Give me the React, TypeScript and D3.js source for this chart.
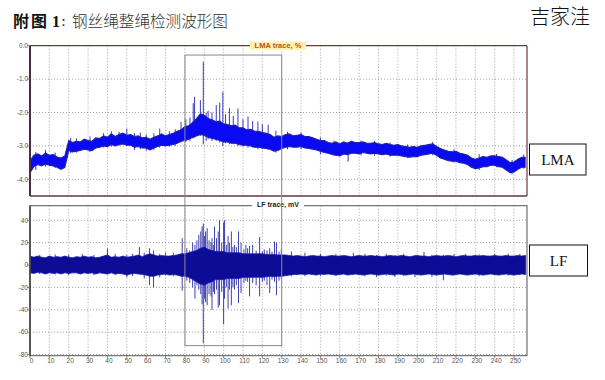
import React from "react";
import * as d3 from "d3";

// ---------- data ----------
const xTicks = [0, 10, 20, 30, 40, 50, 60, 70, 80, 90, 100, 110, 120, 130, 140, 150, 160, 170, 180, 190, 200, 210, 220, 230, 240, 250];
const lmaTicks = [0, -1, -2, -3, -4];
const lmaTickLabels = ["0.0", "-1.0", "-2.0", "-3.0", "-4.0"];
const lfTicks = [40, 20, 0, -20, -40, -60, -80];

// sample positions (every 2 units along the rope)
const samplePos = d3.range(0, 257, 2);

// LMA trace envelope (%), upper and lower edge of the dense band
const lmaHi = [
  -3.45, -3.28, -3.24, -3.30, -3.22, -3.28, -3.26, -3.33, -3.36, -3.30,
  -2.84, -2.90, -2.86, -2.88, -2.80, -2.84, -2.86, -2.76, -2.78, -2.70,
  -2.74, -2.64, -2.72, -2.66, -2.62, -2.68, -2.66, -2.72, -2.70, -2.76,
  -2.74, -2.80, -2.74, -2.70, -2.64, -2.70, -2.66, -2.62, -2.56, -2.52,
  -2.42, -2.40, -2.30, -2.18, -2.04, -2.08, -2.18, -2.22, -2.28, -2.26,
  -2.34, -2.36, -2.40, -2.38, -2.46, -2.46, -2.52, -2.50, -2.56, -2.56,
  -2.60, -2.62, -2.66, -2.74, -2.70, -2.72, -2.66, -2.64, -2.70, -2.68,
  -2.66, -2.72, -2.72, -2.76, -2.80, -2.84, -2.84, -2.90, -2.92, -2.88,
  -2.94, -2.88, -2.92, -2.86, -2.90, -2.90, -2.88, -2.92, -2.92, -2.90,
  -2.94, -2.96, -2.92, -2.96, -2.98, -2.96, -3.00, -3.02, -3.04, -3.02,
  -3.04, -3.00, -2.98, -2.96, -2.94, -3.02, -3.08, -3.12, -3.16, -3.18,
  -3.16, -3.22, -3.24, -3.28, -3.36, -3.40, -3.36, -3.32, -3.34, -3.30,
  -3.30, -3.32, -3.34, -3.42, -3.50, -3.48, -3.40, -3.34, -3.34,
];
const lmaLo = [
  -3.80, -3.62, -3.56, -3.60, -3.54, -3.58, -3.60, -3.64, -3.70, -3.64,
  -3.14, -3.18, -3.16, -3.14, -3.10, -3.12, -3.14, -3.06, -3.04, -3.00,
  -3.02, -2.96, -3.00, -2.96, -2.94, -2.98, -2.98, -3.04, -3.02, -3.06,
  -3.06, -3.12, -3.06, -3.02, -2.98, -3.00, -2.98, -2.96, -2.92, -2.86,
  -2.84, -2.80, -2.74, -2.70, -2.66, -2.68, -2.74, -2.78, -2.80, -2.84,
  -2.88, -2.88, -2.92, -2.92, -2.96, -2.98, -2.98, -3.00, -3.04, -3.04,
  -3.06, -3.08, -3.10, -3.16, -3.14, -3.08, -3.04, -3.02, -3.04, -3.04,
  -3.02, -3.06, -3.08, -3.10, -3.12, -3.16, -3.20, -3.22, -3.26, -3.28,
  -3.30, -3.24, -3.26, -3.22, -3.22, -3.24, -3.20, -3.22, -3.24, -3.22,
  -3.24, -3.26, -3.24, -3.28, -3.28, -3.28, -3.30, -3.32, -3.34, -3.32,
  -3.32, -3.28, -3.26, -3.24, -3.22, -3.28, -3.36, -3.40, -3.44, -3.46,
  -3.46, -3.50, -3.52, -3.56, -3.64, -3.68, -3.66, -3.62, -3.62, -3.58,
  -3.58, -3.62, -3.64, -3.72, -3.80, -3.78, -3.70, -3.64, -3.64,
];
// LMA spikes: [position, top, bottom]
const lmaSpikes: [number, number, number][] = [
  [3, -3.18, -3.72], [8, -3.12, -3.62], [13, -3.2, -3.66], [21, -2.76, -3.22], [24, -2.78, -3.2],
  [31, -2.72, -3.18], [38, -2.62, -3.05], [42, -2.56, -3.02], [46, -2.58, -3.0],
  [50, -2.48, -3.0], [54, -2.62, -3.12], [57, -2.6, -3.1], [60, -2.66, -3.14], [64, -2.62, -3.12],
  [67, -2.48, -3.05], [72, -2.56, -3.02], [75, -2.5, -3.0], [78, -2.28, -2.9], [80.5, -2.2, -2.88],
  [82.6, -2.15, -2.85], [84.3, -1.72, -2.78],
  [85, -1.53, -2.75], [88, -1.63, -2.7], [89.5, -0.48, -2.95], [91, -2.0, -2.85], [92, -1.95, -2.8],
  [94, -2.0, -2.85], [96.2, -1.78, -2.85], [98, -1.7, -2.9], [99.6, -1.38, -3.0],
  [101, -2.05, -2.92], [103, -1.87, -2.95], [105, -2.1, -2.95], [107.4, -1.88, -3.0],
  [110, -2.2, -3.02], [112.6, -2.12, -3.05], [115, -2.25, -3.05], [117.7, -2.27, -3.1],
  [120, -2.35, -3.1], [123, -2.37, -3.12], [127, -2.55, -3.2], [133, -2.58, -3.1], [140, -2.6, -3.1],
  [150, -2.75, -3.25], [157, -2.84, -3.3], [164.3, -2.88, -3.47], [171, -2.84, -3.28], [178, -2.85, -3.3],
  [186, -2.9, -3.32], [195, -2.96, -3.36], [208, -2.88, -3.28], [219, -3.1, -3.5],
  [232, -3.25, -3.72], [241, -3.24, -3.64], [249, -3.42, -3.85], [255, -3.26, -3.68],
];

// LF trace envelope (mV)
const lfHi = [
  8, 7, 8, 7, 6.5, 8, 7, 7.5, 7, 8,
  7, 6.5, 7.5, 7, 8, 7, 7.5, 6.5, 7, 8,
  9, 7, 7.5, 7, 8, 7, 7.5, 8, 9, 7.5,
  9, 10, 9, 8, 8.5, 8, 8, 8.5, 9, 10,
  10, 11, 12, 13, 15, 16, 14, 13, 12, 12,
  12, 11, 11, 11, 11, 10, 10, 10, 10, 10,
  10, 9.5, 9.5, 9.5, 9, 9, 9, 8.5, 8, 8.5,
  8, 7.5, 8, 8.5, 8, 8, 7.5, 8, 8.5, 8,
  8, 8.5, 8, 7.5, 8, 8.5, 8, 8, 8.5, 8,
  8, 7.5, 8, 8.5, 8, 8, 8.5, 8, 7.5, 8,
  8.5, 8, 8, 7.5, 8, 8.5, 8, 8, 8.5, 8,
  7.5, 8, 8.5, 8, 8, 8.5, 8, 8.5, 8, 8,
  8.5, 8, 8, 8.5, 8, 8, 8.5, 8, 8.5,
];
const lfLo = [
  -7, -7.5, -6.5, -7, -8, -7, -7.5, -7, -8, -7,
  -7.5, -7, -7, -8, -7, -7.5, -7, -8, -7, -7.5,
  -8, -7, -8, -7.5, -8, -9, -8, -7.5, -8, -8.5,
  -9, -10, -10, -9, -8.5, -8, -9, -8.5, -9, -10,
  -10, -11, -13, -15, -17, -18, -16, -15, -13, -13,
  -13, -12, -12, -12, -12, -11, -11, -11, -11, -11,
  -11, -10.5, -10, -10.5, -10, -10, -9.5, -9, -8.5, -8.5,
  -8, -8.5, -8, -8.5, -9, -8, -8.5, -8, -8.5, -9,
  -8.5, -8, -9, -8.5, -8, -8.5, -9, -8.5, -8, -8.5,
  -9, -8.5, -8, -8.5, -9, -8, -8.5, -9, -8.5, -8,
  -8.5, -9, -8.5, -8, -8.5, -9, -8.5, -8, -8.5, -9,
  -8.5, -8, -8.5, -9, -8.5, -8, -8.5, -9, -8.5, -8,
  -8.5, -9, -8.5, -8, -8.5, -9, -8.5, -8, -8.5,
];
// LF spikes: [position, top, bottom]
const lfSpikes: [number, number, number][] = [
  [5, 9, -8], [13, 9.5, -8.5], [20, 9, -9], [27, 10, -7], [33, 9, -9], [40, 14.7, -8], [44, 10, -9],
  [50, 9, -11], [53, 10, -10], [56.5, 16, -8], [59, 11, -12],
  [61.7, 15, -18], [63.8, 13, -20], [67, 10, -11], [70, 11, -9], [74, 11, -10], [78.6, 24, -23], [81, 15, -14],
  [82.5, 13, -16], [84, 20, -20], [85.2, 18, -30], [86.2, 22, -18], [87.2, 27, -22],
  [88.2, 30, -26], [88.9, 34.5, -35], [89.5, 37, -70], [90.2, 26, -30], [90.7, 30, -33], [91.5, 33, -36],
  [92.5, 22, -26], [93.5, 20, -28], [94, 24, -40], [94.7, 18, -24], [95.3, 34.5, -26], [96.3, 24, -22],
  [97.2, 30, -38], [97.9, 40, -36], [99, 20, -24], [100, 38, -53], [100.5, 40, -30],
  [101.4, 18, -20], [102.3, 26, -39], [103, 20, -22], [104, 30, -36], [104.8, 16, -20], [105.6, 18, -22],
  [106.6, 16, -18], [107.7, 30, -34], [109, 20, -25], [110.5, 14, -16], [111.5, 18, -14], [112.4, 15, -15],
  [113.4, 17, -28], [115, 18, -16], [116.8, 13, -18], [118.6, 25, -28], [120, 12, -15], [121, 14, -14],
  [122.4, 13, -18], [123.8, 15, -25], [125, 12, -13], [126.3, 21, -15], [127.3, 20, -27],
  [128.6, 12, -14], [129.8, 14, -12], [135, 12, -10], [142, 11, -10], [150, 10, -10], [158, 10, -9.5],
  [167, 11, -9], [173, 10, -10], [179, 9, -10.7], [184, 10, -9.5],
  [188.5, 9, -10.7], [193, 10, -9.5], [198.8, 9, -10.7], [203.5, 11.7, -9], [207.6, 9, -10.7],
  [213.5, 9, -13.7], [219, 10, -9.5], [225, 10, -9], [232, 9.5, -10], [240, 10, -9], [247, 10, -9.5], [253, 10, -9],
];

// inspected section marker (rope position range, and value limits in each panel)
const boxRange = [80, 130];
const boxTopLma = -0.28;
const boxBottomLf = -72;

// ---------- layout ----------
const W = 605;
const H = 380;
const left = 30;
const right = 527;
const topPanel = { top: 45.7, bottom: 196 };
const botPanel = { top: 205.7, bottom: 355.7 };

const x = d3.scaleLinear().domain([0, 256.7]).range([left, right]);
const yTop = d3.scaleLinear().domain([-4.5, 0]).range([topPanel.bottom, topPanel.top]);
const yBot = d3.scaleLinear().domain([-81, 53]).range([botPanel.bottom, botPanel.top]);

const lmaArea = d3
  .area<number>()
  .x((_, i) => x(samplePos[i]))
  .y0((_, i) => yTop(lmaLo[i]))
  .y1((_, i) => yTop(lmaHi[i]));
const lmaHiLine = d3.line<number>().x((_, i) => x(samplePos[i])).y((_, i) => yTop(lmaHi[i]));
const lmaLoLine = d3.line<number>().x((_, i) => x(samplePos[i])).y((_, i) => yTop(lmaLo[i]));

const lfArea = d3
  .area<number>()
  .x((_, i) => x(samplePos[i]))
  .y0((_, i) => yBot(lfLo[i]))
  .y1((_, i) => yBot(lfHi[i]));

const tickFont = "'Liberation Sans', Arial, sans-serif";

export default function App() {
  const gridColor = "#8c8c8c";
  return (
    <svg
      width={W}
      height={H}
      viewBox={`0 0 ${W} ${H}`}
      style={{ position: "absolute", left: 0, top: 0, background: "#fff" }}
    >
      <defs>
        <clipPath id="clipTop">
          <rect x={left} y={topPanel.top} width={right - left} height={topPanel.bottom - topPanel.top} />
        </clipPath>
        <clipPath id="clipBot">
          <rect x={left} y={botPanel.top} width={right - left} height={botPanel.bottom - botPanel.top} />
        </clipPath>
      </defs>
      <rect x={0} y={0} width={W} height={H} fill="#fff" />

      {/* Title */}
      <text x={13} y={27} fontSize={16} fontWeight={700} fontFamily="'Noto Sans CJK SC', sans-serif" fill="#111" letterSpacing={2}>
        附图
      </text>
      <text x={52} y={27} fontSize={16} fontWeight={700} fontFamily="'Liberation Serif', serif" fill="#111">
        1
      </text>
      <text x={61} y={26} fontSize={10} fontWeight={700} fontFamily="'Noto Sans CJK SC', sans-serif" fill="#222">
        ：
      </text>
      <text x={72} y={27} fontSize={15.6} fontWeight={300} fontFamily="'Noto Sans CJK SC', sans-serif" fill="#333">
        钢丝绳整绳检测波形图
      </text>
      <text x={530} y={24} fontSize={20} fontWeight={300} fontFamily="'Noto Sans CJK SC', sans-serif" fill="#111">
        吉家洼
      </text>

      {/* ---------- Top panel (LMA) ---------- */}
      <g>
        {xTicks.filter((t) => t > 0).map((t) => (
          <line key={`tv${t}`} x1={x(t)} x2={x(t)} y1={topPanel.top} y2={topPanel.bottom} stroke={gridColor} strokeWidth={0.8} strokeDasharray="1,2" />
        ))}
        {lmaTicks.filter((t) => t < 0).map((t) => (
          <line key={`th${t}`} x1={left} x2={right} y1={yTop(t)} y2={yTop(t)} stroke={gridColor} strokeWidth={0.8} strokeDasharray="1,2" />
        ))}
        <g clipPath="url(#clipTop)">
          {lmaSpikes.map(([p, hi, lo], i) => (
            <line key={`ls${i}`} x1={x(p)} x2={x(p)} y1={yTop(hi)} y2={yTop(lo)} stroke="#2424b4" strokeWidth={0.9} />
          ))}
          <path d={lmaArea(samplePos) || ""} fill="#0a0af2" />
          <path d={lmaHiLine(samplePos) || ""} fill="none" stroke="#2020a8" strokeWidth={1.1} />
          <path d={lmaLoLine(samplePos) || ""} fill="none" stroke="#2020a8" strokeWidth={1.1} />
        </g>
        {/* frame */}
        <line x1={left} x2={right} y1={topPanel.top} y2={topPanel.top} stroke="#6e3a3a" strokeWidth={1.3} />
        <line x1={left} x2={right} y1={topPanel.bottom} y2={topPanel.bottom} stroke="#5e3a3a" strokeWidth={1.3} />
        <line x1={right} x2={right} y1={topPanel.top} y2={topPanel.bottom} stroke="#6e3a3a" strokeWidth={1.2} />
        <line x1={left} x2={left} y1={topPanel.top} y2={topPanel.bottom} stroke="#4e2a44" strokeWidth={2} />
        {lmaTicks.map((t, i) => (
          <g key={`tl${t}`}>
            <line x1={left - 3} x2={left} y1={yTop(t)} y2={yTop(t)} stroke="#666" strokeWidth={0.8} />
            <text x={left - 2} y={yTop(t) + 2.3} fontSize={6.5} textAnchor="end" fontFamily={tickFont} fill="#555">
              {lmaTickLabels[i]}
            </text>
          </g>
        ))}
        <rect x={250} y={topPanel.top - 4.2} width={56} height={8.4} fill="#fff2b0" />
        <text x={278} y={topPanel.top + 2.6} fontSize={7.5} fontWeight={700} textAnchor="middle" fontFamily={tickFont} fill="#c8500a">
          LMA trace, %
        </text>
      </g>

      {/* ---------- Bottom panel (LF) ---------- */}
      <g>
        {xTicks.filter((t) => t > 0).map((t) => (
          <line key={`bv${t}`} x1={x(t)} x2={x(t)} y1={botPanel.top} y2={botPanel.bottom} stroke={gridColor} strokeWidth={0.8} strokeDasharray="1,2" />
        ))}
        {lfTicks.map((t) => (
          <line key={`bh${t}`} x1={left} x2={right} y1={yBot(t)} y2={yBot(t)} stroke={gridColor} strokeWidth={0.8} strokeDasharray="1,2" />
        ))}
        <g clipPath="url(#clipBot)">
          {lfSpikes.map(([p, hi, lo], i) => (
            <line key={`fs${i}`} x1={x(p)} x2={x(p)} y1={yBot(hi)} y2={yBot(lo)} stroke="#2a2aa8" strokeWidth={0.9} />
          ))}
          <path d={lfArea(samplePos) || ""} fill="#0c0c96" stroke="#1a1ab4" strokeWidth={0.8} />
        </g>
        <rect x={left} y={botPanel.top} width={right - left} height={botPanel.bottom - botPanel.top} fill="none" stroke="#555" strokeWidth={1} />
        <line x1={left} x2={left} y1={botPanel.top} y2={botPanel.bottom} stroke="#444" strokeWidth={1.6} />
        {lfTicks.map((t) => (
          <g key={`bl${t}`}>
            <line x1={left - 3} x2={left} y1={yBot(t)} y2={yBot(t)} stroke="#666" strokeWidth={0.8} />
            <text x={left - 2} y={yBot(t) + 2.3} fontSize={6.5} textAnchor="end" fontFamily={tickFont} fill="#555">
              {t}
            </text>
          </g>
        ))}
        {xTicks.map((t) => (
          <g key={`xl${t}`}>
            <line x1={x(t)} x2={x(t)} y1={botPanel.bottom} y2={botPanel.bottom + 2.5} stroke="#666" strokeWidth={0.8} />
            <text x={x(t) + 1.5} y={botPanel.bottom + 7.5} fontSize={6.5} textAnchor="middle" fontFamily={tickFont} fill="#555">
              {t}
            </text>
          </g>
        ))}
        <rect x={252} y={botPanel.top - 4} width={52} height={7} fill="#fff" />
        <text x={278} y={botPanel.top + 1.5} fontSize={7} fontWeight={700} textAnchor="middle" fontFamily={tickFont} fill="#222">
          LF trace, mV
        </text>
      </g>

      {/* inspected section box */}
      <rect
        x={x(boxRange[0])}
        y={yTop(boxTopLma)}
        width={x(boxRange[1]) - x(boxRange[0])}
        height={yBot(boxBottomLf) - yTop(boxTopLma)}
        fill="none"
        stroke="#8a8a8a"
        strokeWidth={1}
      />

      {/* side labels */}
      <rect x={529.5} y={144} width={56.5} height={31} fill="#fff" stroke="#111" strokeWidth={1} />
      <text x={557.8} y={164.5} fontSize={15} textAnchor="middle" fontFamily="'Liberation Serif', 'Times New Roman', serif" fill="#111">
        LMA
      </text>
      <rect x={529.5} y={245} width={58} height={31} fill="#fff" stroke="#111" strokeWidth={1} />
      <text x={558.5} y={265.5} fontSize={15} textAnchor="middle" fontFamily="'Liberation Serif', 'Times New Roman', serif" fill="#111">
        LF
      </text>
    </svg>
  );
}
